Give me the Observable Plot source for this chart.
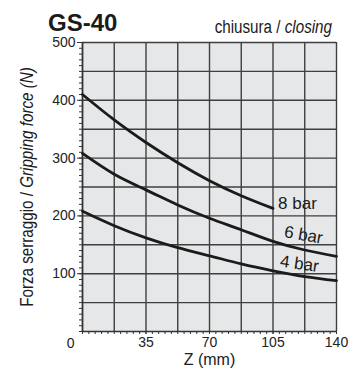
<!DOCTYPE html>
<html>
<head>
<meta charset="utf-8">
<script src="https://cdn.jsdelivr.net/npm/d3@7"></script>
<script src="https://cdn.jsdelivr.net/npm/@observablehq/plot@0.6"></script>
<style>
  html, body { margin: 0; padding: 0; background: #fff; }
  #chart { width: 354px; height: 372px; }
</style>
</head>
<body>
<div id="chart"></div>
<script>
// Stroke Z (mm) at which the gripping force was sampled
const strokeZ = [0, 17.5, 35, 52.5, 70, 87.5, 105, 122.5, 140];

// Gripping force (N) per supply pressure
const force8bar = [410, 366, 327, 292, 261, 235, 213];
const force6bar = [308, 272, 245, 219, 196, 176, 156, 141, 130];
const force4bar = [208, 183, 162, 145, 131, 117, 105, 95, 88];

const seriesNames = ["8 bar", "6 bar", "4 bar"];
const seriesValues = [force8bar, force6bar, force4bar];

const xTickLabels = [35, 70, 105, 140];
const yTickLabels = [100, 200, 300, 400, 500];

const rows = seriesNames.flatMap((name, s) =>
  seriesValues[s].map((f, i) => ({ z: strokeZ[i], f, series: name }))
);

const sans = "'Liberation Sans', Arial, sans-serif";
const ink = "#1b1b1b";
const gridInk = "#3f3f3f";

const chart = Plot.plot({
  width: 354,
  height: 372,
  marginTop: 42,
  marginRight: 18,
  marginBottom: 41,
  marginLeft: 82,
  style: { fontFamily: sans, fontSize: "14px", color: "#222", background: "#fff" },
  x: { domain: [0, 140], label: null },
  y: { domain: [0, 500], label: null },
  marks: [
    Plot.frame({ fill: "#e6e7e8", stroke: null }),
    Plot.gridX(d3.range(0, 141, 17.5), { stroke: gridInk, strokeOpacity: 1, strokeWidth: 1.4 }),
    Plot.gridY(d3.range(50, 501, 50), { stroke: gridInk, strokeOpacity: 1, strokeWidth: 1.4 }),
    // minor ticks
    Plot.axisY(d3.range(0, 501, 10), { tickSize: 3, text: null, label: null, stroke: "#333" }),
    Plot.axisX(d3.range(0, 141, 3.5), { tickSize: 3, text: null, label: null, stroke: "#333" }),
    // labelled ticks
    Plot.axisY(yTickLabels, { tickSize: 5, tickPadding: 2, fontSize: 14, label: null, stroke: "#333" }),
    Plot.axisX(xTickLabels, { tickSize: 3, tickPadding: 3, fontSize: 14, label: null, stroke: "#333" }),
    Plot.ruleX([0], { stroke: "#333", strokeWidth: 1.5 }),
    Plot.ruleY([0], { stroke: "#333", strokeWidth: 1.5 }),
    Plot.line(rows, { x: "z", y: "f", z: "series", curve: "natural", stroke: ink, strokeWidth: 2.8 }),
    // pressure labels along the curves
    Plot.text([seriesNames[0]], { x: 118.5, y: 221, text: d => d, fontSize: 17, fill: ink }),
    Plot.text([seriesNames[1]], { x: 121.8, y: 167, text: d => d, fontSize: 17, fill: ink, rotate: 10 }),
    Plot.text([seriesNames[2]], { x: 119.6, y: 117, text: d => d, fontSize: 17, fill: ink, rotate: 8 }),
    // shared origin label
    Plot.text(["0"], { x: () => 0, y: () => 0, text: d => d, dx: -8, dy: 12, textAnchor: "end", fontSize: 14, fill: "#222" }),
    Plot.text(["Z (mm)"], { frameAnchor: "bottom", dy: 33, text: d => d, fontSize: 16, fill: "#222" })
  ]
});

document.getElementById("chart").appendChild(chart);

const svg = d3.select(chart);

// model name and operating mode
svg.append("text")
  .attr("x", 48).attr("y", 31)
  .attr("text-anchor", "start")
  .attr("font-family", sans)
  .attr("font-weight", "bold").attr("font-size", 24).attr("fill", ink)
  .text("GS-40");

// narrow lettering: regular sans squeezed horizontally
const mode = svg.append("text")
  .attr("transform", "translate(332,33) scale(0.8,1)")
  .attr("text-anchor", "end")
  .attr("font-family", sans).attr("font-size", 19).attr("fill", ink);
mode.append("tspan").text("chiusura / ");
mode.append("tspan").attr("font-style", "italic").text("closing");

// y axis title
const yTitle = svg.append("text")
  .attr("transform", "translate(33,187) rotate(-90) scale(0.8,1)")
  .attr("text-anchor", "middle")
  .attr("font-family", sans).attr("font-size", 19).attr("fill", ink);
yTitle.append("tspan").text("Forza serraggio / ");
yTitle.append("tspan").attr("font-style", "italic").text("Gripping force (N)");
</script>
</body>
</html>
